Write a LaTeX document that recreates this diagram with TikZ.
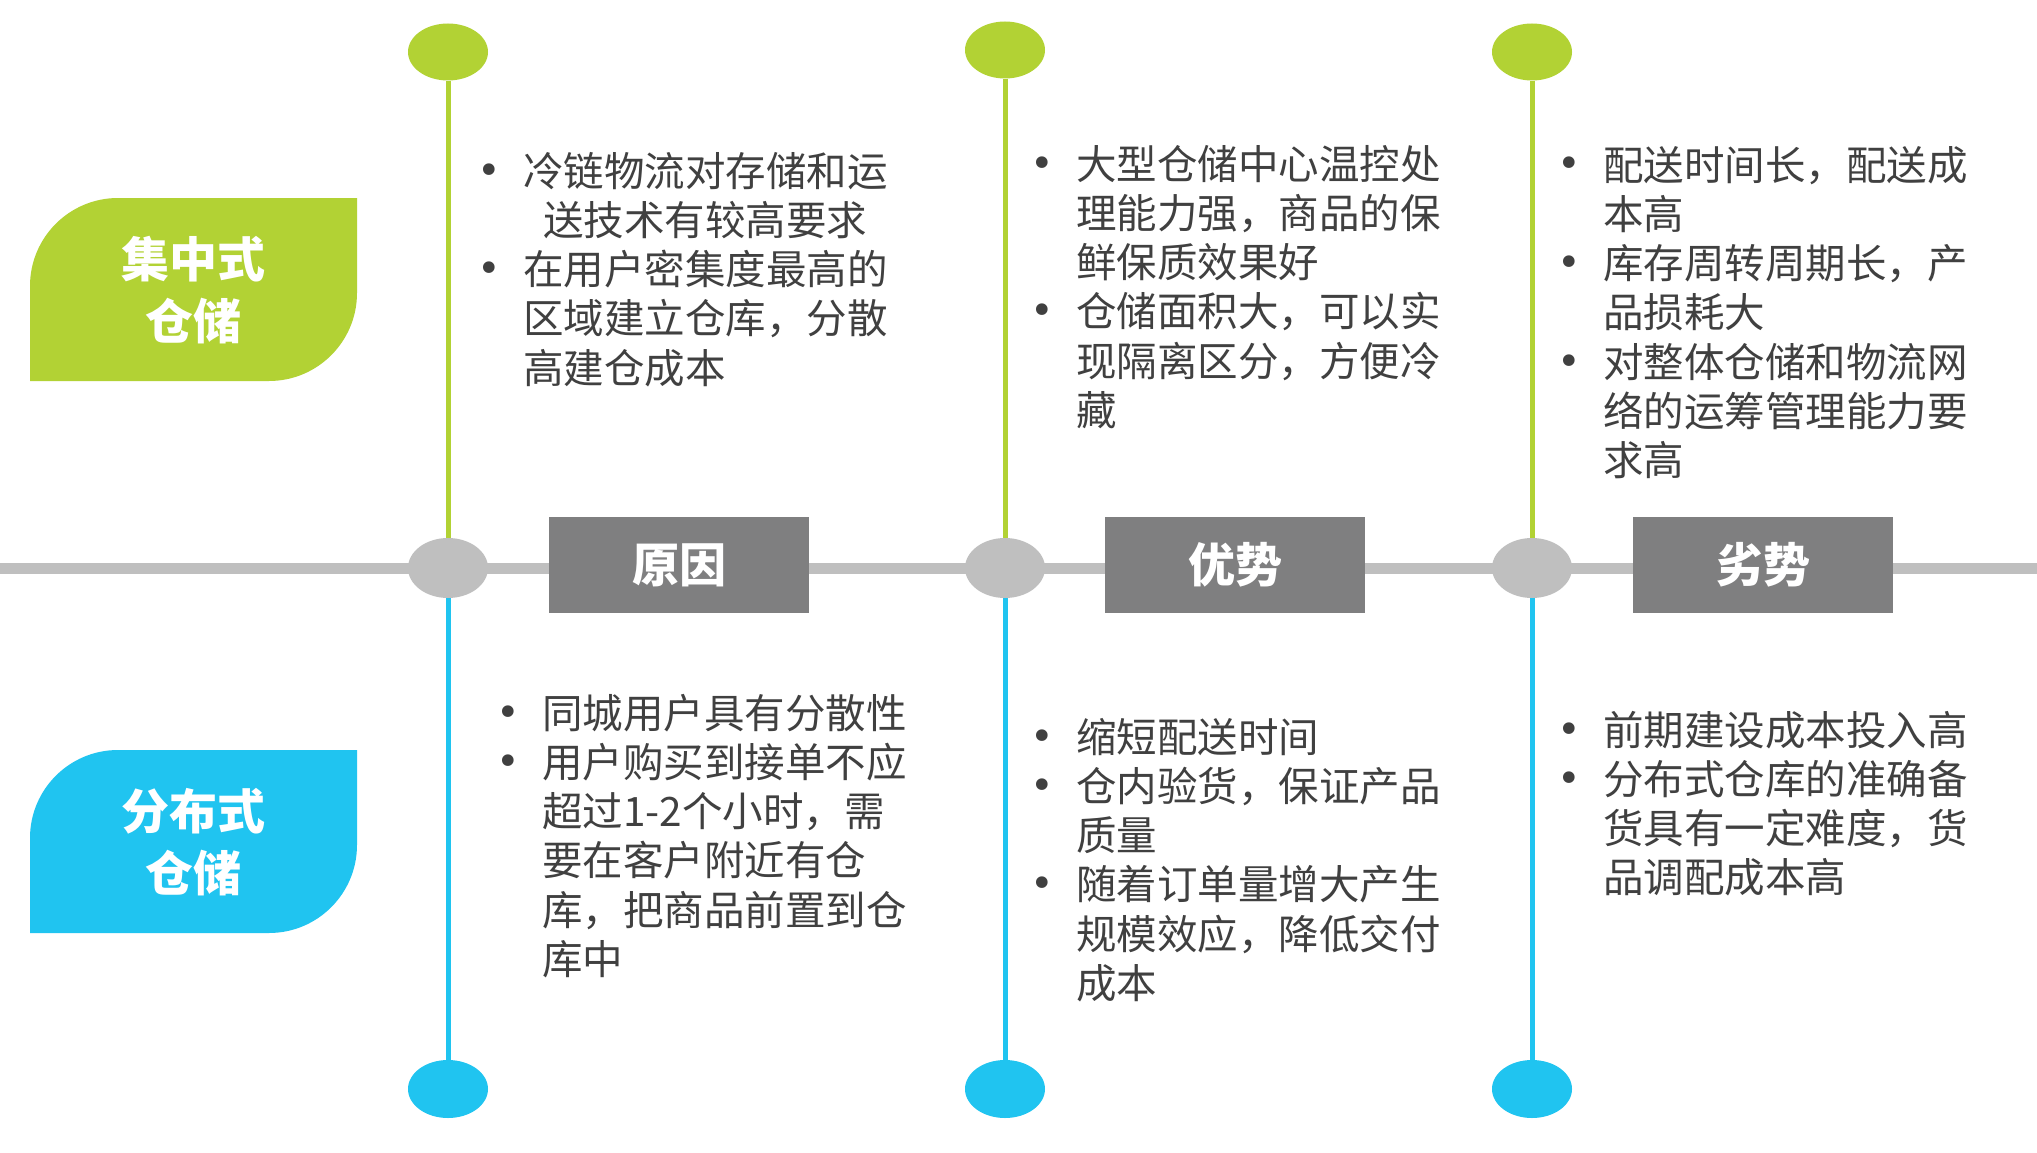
\documentclass[tikz,border=0pt]{standalone}
\usepackage{fontspec}
\setmainfont{Noto Sans CJK SC}
\newfontfamily\bulfont{DejaVu Sans}
\usetikzlibrary{shapes.geometric}
\definecolor{lgreen}{RGB}{178,210,52}
\definecolor{lblue}{RGB}{32,196,240}
\definecolor{lgray}{RGB}{191,191,191}
\definecolor{boxgray}{RGB}{127,127,128}
\definecolor{txt}{RGB}{64,64,64}
\newcommand{\bul}{\raisebox{2pt}{\bulfont\fontsize{40}{40}\selectfont •}}
\tikzset{
  body/.style={anchor=base west, inner sep=0pt, text=txt, font=\fontsize{40.5}{49.3}\selectfont},
  dotg/.style={ellipse, fill=lgreen, minimum width=80pt, minimum height=57pt, inner sep=0pt},
  dotm/.style={ellipse, fill=lgray, minimum width=80pt, minimum height=60pt, inner sep=0pt},
  dotb/.style={ellipse, fill=lblue, minimum width=80pt, minimum height=58pt, inner sep=0pt},
  vline/.style={line width=5pt},
  hbox/.style={fill=boxgray, text=white, minimum width=260pt, minimum height=96pt, inner sep=0pt, font=\fontsize{47}{50}\selectfont\bfseries},
  lbl/.style={text=white, align=center, inner sep=0pt, font=\fontsize{48}{62}\selectfont\bfseries}
}
\begin{document}
\begin{tikzpicture}[x=1pt,y=-1pt]
\useasboundingbox (0,0) rectangle (2037,1153);
\fill[white] (0,0) rectangle (2037,1153);

% horizontal axis
\coordinate (hl) at (0,568);
\coordinate (hr) at (2037,568);
\draw[lgray, line width=11pt] (hl) -- (hr);

% labels
\fill[lgreen] (30,381) -- (30,286) .. controls (30,237.4) and (69.4,198) .. (118,198)
  -- (357,198) -- (357,293) .. controls (357,341.6) and (317.6,381) .. (269,381) -- cycle;
\node[lbl] (lab1) at (193,290) {集中式\\仓储};
\fill[lblue] (30,933) -- (30,838) .. controls (30,789.4) and (69.4,750) .. (118,750)
  -- (357,750) -- (357,845) .. controls (357,893.6) and (317.6,933) .. (269,933) -- cycle;
\node[lbl] (lab2) at (193,842) {分布式\\仓储};

% column 1
\node[dotg] (t1) at (448,52) {};
\node[dotm] (m1) at (448,568) {};
\node[dotb] (b1) at (448,1089) {};
\draw[lgreen, vline] (t1.south) -- (m1.north);
\draw[lblue, vline] (m1.south) -- (b1.north);
% column 2
\node[dotg] (t2) at (1005,50) {};
\node[dotm] (m2) at (1005,568) {};
\node[dotb] (b2) at (1005,1089) {};
\draw[lgreen, vline] (t2.south) -- (m2.north);
\draw[lblue, vline] (m2.south) -- (b2.north);
% column 3
\node[dotg] (t3) at (1532,52) {};
\node[dotm] (m3) at (1532,568) {};
\node[dotb] (b3) at (1532,1089) {};
\draw[lgreen, vline] (t3.south) -- (m3.north);
\draw[lblue, vline] (m3.south) -- (b3.north);

% headers
\node[hbox] (h1) at (679,565) {原因};
\node[hbox] (h2) at (1235,565) {优势};
\node[hbox] (h3) at (1763,565) {劣势};

% texts
\node[body] (c1t) at (477,186) {\begin{tabular}[t]{@{}p{46pt}@{}l@{}}
\bul & 冷链物流对存储和运\\
 & \hspace{20pt}送技术有较高要求\\
\bul & 在用户密集度最高的\\
 & 区域建立仓库，分散\\
 & 高建仓成本
\end{tabular}};
\node[body] (c1b) at (496,728) {\begin{tabular}[t]{@{}p{46pt}@{}l@{}}
\bul & 同城用户具有分散性\\
\bul & 用户购买到接单不应\\
 & 超过1-2个小时，需\\
 & 要在客户附近有仓\\
 & 库，把商品前置到仓\\
 & 库中
\end{tabular}};
\node[body] (c2t) at (1030,179) {\begin{tabular}[t]{@{}p{46pt}@{}l@{}}
\bul & 大型仓储中心温控处\\
 & 理能力强，商品的保\\
 & 鲜保质效果好\\
\bul & 仓储面积大，可以实\\
 & 现隔离区分，方便冷\\
 & 藏
\end{tabular}};
\node[body] (c2b) at (1030,752) {\begin{tabular}[t]{@{}p{46pt}@{}l@{}}
\bul & 缩短配送时间\\
\bul & 仓内验货，保证产品\\
 & 质量\\
\bul & 随着订单量增大产生\\
 & 规模效应，降低交付\\
 & 成本
\end{tabular}};
\node[body] (c3t) at (1557,180) {\begin{tabular}[t]{@{}p{46pt}@{}l@{}}
\bul & 配送时间长，配送成\\
 & 本高\\
\bul & 库存周转周期长，产\\
 & 品损耗大\\
\bul & 对整体仓储和物流网\\
 & 络的运筹管理能力要\\
 & 求高
\end{tabular}};
\node[body] (c3b) at (1557,745) {\begin{tabular}[t]{@{}p{46pt}@{}l@{}}
\bul & 前期建设成本投入高\\
\bul & 分布式仓库的准确备\\
 & 货具有一定难度，货\\
 & 品调配成本高
\end{tabular}};
\end{tikzpicture}
\end{document}
